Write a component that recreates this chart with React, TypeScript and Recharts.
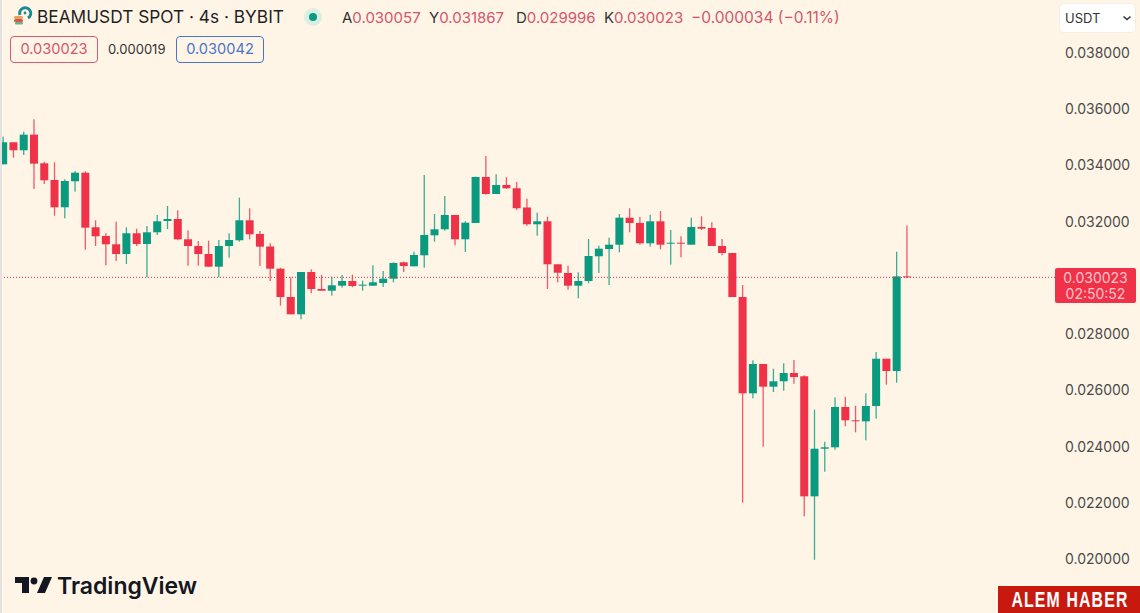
import { ComposedChart, Bar, XAxis, YAxis, ReferenceLine } from 'recharts';

const opens = [
  0.034043, 0.034825, 0.034541, 0.035096, 0.034079, 0.033485, 0.032514, 0.033439, 0.033744, 0.031803,
  0.031494, 0.031198, 0.030853, 0.03159, 0.031209, 0.031625, 0.032027, 0.032098, 0.031376, 0.031138,
  0.030853, 0.030402, 0.031138, 0.031341, 0.032052, 0.031565, 0.03112, 0.030331, 0.029324, 0.028709,
  0.030213, 0.029609, 0.029548, 0.029726, 0.029893, 0.029726, 0.029726, 0.029822, 0.029975, 0.030558,
  0.030416, 0.030807, 0.031518, 0.031732, 0.03224, 0.031376, 0.031956, 0.033592, 0.032987, 0.033307,
  0.03319, 0.032507, 0.03191, 0.032016, 0.030487, 0.030178, 0.029726, 0.029893, 0.030772, 0.031031,
  0.031184, 0.032144, 0.031956, 0.031234, 0.032016, 0.03122, 0.031255, 0.031184, 0.031814, 0.031778,
  0.031138, 0.030889, 0.029324, 0.0259, 0.026942, 0.026135, 0.026327, 0.026622, 0.026505, 0.022237,
  0.02393, 0.02398, 0.025413, 0.02494, 0.024904, 0.025448, 0.02713, 0.026693, 0.030057,
];
const highs = [
  0.035025, 0.034825, 0.035202, 0.035643, 0.034136, 0.034114, 0.03351, 0.033805, 0.033794, 0.032052,
  0.03159, 0.032002, 0.031803, 0.031753, 0.031849, 0.03224, 0.03256, 0.032407, 0.031696, 0.031316,
  0.031326, 0.031351, 0.03159, 0.032855, 0.032479, 0.031671, 0.031234, 0.030366, 0.030025, 0.030213,
  0.030309, 0.030107, 0.030046, 0.030107, 0.030117, 0.029904, 0.030452, 0.030249, 0.030558, 0.03058,
  0.030935, 0.033663, 0.032276, 0.032916, 0.03224, 0.032016, 0.033602, 0.034338, 0.033688, 0.033581,
  0.033414, 0.03282, 0.032322, 0.03218, 0.030487, 0.030437, 0.030203, 0.031387, 0.031149, 0.031433,
  0.032276, 0.032479, 0.032169, 0.032251, 0.032382, 0.031707, 0.031483, 0.032144, 0.032194, 0.031981,
  0.031387, 0.030889, 0.029751, 0.027073, 0.026942, 0.026775, 0.026967, 0.027084, 0.02654, 0.025317,
  0.024179, 0.025758, 0.025779, 0.025459, 0.0259, 0.027369, 0.02713, 0.030935, 0.031867,
];
const lows = [
  0.034043, 0.034278, 0.034374, 0.033165, 0.033343, 0.032215, 0.032123, 0.033069, 0.031006, 0.031138,
  0.030452, 0.030605, 0.030498, 0.031138, 0.030025, 0.031529, 0.031742, 0.031341, 0.030437, 0.030437,
  0.030402, 0.030025, 0.030722, 0.031291, 0.031376, 0.030427, 0.029893, 0.029015, 0.028709, 0.028531,
  0.029456, 0.029548, 0.029371, 0.029655, 0.029669, 0.029548, 0.029726, 0.02968, 0.029847, 0.030213,
  0.030416, 0.030366, 0.031291, 0.031682, 0.031163, 0.030925, 0.031956, 0.032962, 0.032987, 0.033165,
  0.032418, 0.03186, 0.031504, 0.029609, 0.029847, 0.029584, 0.029278, 0.029812, 0.030178, 0.029751,
  0.030914, 0.031625, 0.031184, 0.031113, 0.03102, 0.030473, 0.030736, 0.031184, 0.031707, 0.031138,
  0.030807, 0.029324, 0.02201, 0.025722, 0.024001, 0.025946, 0.025992, 0.026241, 0.021526, 0.019983,
  0.023112, 0.023894, 0.024726, 0.024513, 0.024229, 0.024997, 0.026206, 0.026277, 0.029996,
];
const closes = [
  0.034825, 0.034541, 0.035096, 0.034065, 0.033474, 0.032514, 0.033449, 0.033744, 0.031789, 0.031483,
  0.031198, 0.030853, 0.03159, 0.031209, 0.031625, 0.032016, 0.032098, 0.031376, 0.031138, 0.030853,
  0.030402, 0.031138, 0.031351, 0.032052, 0.031554, 0.031113, 0.030331, 0.029324, 0.028709, 0.030213,
  0.029609, 0.029548, 0.02974, 0.029893, 0.029716, 0.029762, 0.029847, 0.029975, 0.030533, 0.030427,
  0.030818, 0.031529, 0.031732, 0.03224, 0.031376, 0.031966, 0.033592, 0.032987, 0.033307, 0.03319,
  0.032479, 0.03191, 0.032016, 0.030487, 0.030188, 0.029726, 0.029893, 0.030782, 0.031042, 0.031184,
  0.032144, 0.031956, 0.031234, 0.032016, 0.031184, 0.031255, 0.03122, 0.031814, 0.031753, 0.031138,
  0.030889, 0.029324, 0.0259, 0.026942, 0.026135, 0.026327, 0.026622, 0.02648, 0.022237, 0.02393,
  0.02398, 0.025413, 0.02494, 0.024904, 0.025448, 0.02713, 0.026693, 0.030057, 0.030023,
];
// 0.030000 sits behind the price tag in the original, so it is not listed
const priceTicks = [0.02, 0.022, 0.024, 0.026, 0.028, 0.032, 0.034, 0.036, 0.038];
const lastPrice = 0.030023;

const UP = '#0a9a80';
const DOWN = '#ef3248';
const BG = '#fff5e7';
const FONT = 'Inter, "Noto Sans", sans-serif';

const candles = opens.map((open, i) => ({ i, open, high: highs[i], low: lows[i], close: closes[i] }));

function Candle(props: any) {
  const { x, y, width, height, payload } = props;
  const { open, high, low, close } = payload;
  const up = close >= open;
  const color = up ? UP : DOWN;
  // bar spans low..high, body is placed inside it by proportion
  const perUnit = height / (high - low);
  const top = y + (high - Math.max(open, close)) * perUnit;
  const bodyH = Math.max(Math.abs(open - close) * perUnit, 1);
  const cx = x + width / 2;
  return (
    <g>
      <rect x={cx - 0.65} y={y} width={1.3} height={height} fill={color} fillOpacity={0.8} />
      <rect x={x} y={top} width={width} height={bodyH} fill={color} />
    </g>
  );
}

function Label({ x, y, color, size = 14, weight = 400, children, style }: any) {
  return (
    <div
      style={{
        position: 'absolute',
        left: x,
        top: y,
        color,
        fontSize: size,
        fontWeight: weight,
        lineHeight: '18px',
        whiteSpace: 'nowrap',
        ...style,
      }}
    >
      {children}
    </div>
  );
}

function Legend() {
  const val = '#d3566b';
  const dark = '#333';
  return (
    <>
      <svg style={{ position: 'absolute', left: 13, top: 6 }} width={20} height={20}>
        <path d="M7 9 A5.5 5.5 0 1 1 15 12" fill="none" stroke="#1c8a94" strokeWidth={3} />
        <circle cx={12} cy={7} r={1.4} fill="#1c8a94" />
        <rect x={1} y={10} width={9} height={3} rx={1.5} fill="#e8a05c" />
        <rect x={1} y={13} width={9} height={3} rx={1.5} fill="#d9534f" />
        <rect x={2} y={16} width={8} height={2.5} rx={1.2} fill="#6fb08a" />
      </svg>
      <Label x={37} y={8} color="#1f1f1f" size={17.3}>BEAMUSDT SPOT · 4s · BYBIT</Label>
      <div style={{ position: 'absolute', left: 304, top: 8, width: 18, height: 18, borderRadius: 9, background: '#d9efe4' }} />
      <div style={{ position: 'absolute', left: 309, top: 13, width: 8, height: 8, borderRadius: 4, background: UP }} />
      <Label x={342} y={9} color={dark} size={15}>A<span style={{ color: val }}>0.030057</span></Label>
      <Label x={429} y={9} color={dark} size={15}>Y<span style={{ color: val }}>0.031867</span></Label>
      <Label x={516} y={9} color={dark} size={15}>D<span style={{ color: val }}>0.029996</span></Label>
      <Label x={604} y={9} color={dark} size={15}>K<span style={{ color: val }}>0.030023</span></Label>
      <Label x={691} y={9} color={val} size={15.5}>−0.000034 (−0.11%)</Label>
      <div style={{ position: 'absolute', left: 10, top: 36, width: 86, height: 25, border: '1.3px solid #d9596d', borderRadius: 4, color: val, fontSize: 14.6, lineHeight: '25px', textAlign: 'center' }}>0.030023</div>
      <Label x={108} y={40} color="#333" size={13}>0.000019</Label>
      <div style={{ position: 'absolute', left: 176, top: 36, width: 86, height: 25, border: '1.3px solid #4a76c8', borderRadius: 4, color: '#4a76c8', fontSize: 14.6, lineHeight: '25px', textAlign: 'center' }}>0.030042</div>
    </>
  );
}

export default function App() {
  return (
    <div style={{ position: 'absolute', left: 0, top: 0, width: 1140, height: 613, background: BG, overflow: 'hidden', fontFamily: FONT }}>
      <ComposedChart
        width={1140}
        height={613}
        data={candles}
        margin={{ top: 0, right: 0, bottom: 0, left: -1.83 }}
      >
        <XAxis dataKey="i" hide padding={{ left: 0, right: 142.8 }} />
        <YAxis
          orientation="right"
          width={85}
          domain={[0.018089, 0.039884]}
          ticks={priceTicks}
          tickFormatter={(v: number) => v.toFixed(6)}
          axisLine={false}
          tickLine={false}
          tickMargin={4}
          tick={{ fontSize: 14, fill: '#4a4a4a', fontFamily: FONT }}
          interval={0}
          allowDataOverflow
        />
        <ReferenceLine y={lastPrice} stroke="#d8325a" strokeWidth={1} strokeDasharray="1 2" />
        <Bar dataKey={(d: any) => [d.low, d.high]} barSize={8} shape={<Candle />} isAnimationActive={false} />
      </ComposedChart>

      <div style={{ position: 'absolute', left: 0, top: 0, width: 1.5, height: 613, background: '#e6e1e1' }} />
      <Legend />

      <div style={{ position: 'absolute', left: 1060, top: 4, width: 75, height: 28, background: '#fff', borderRadius: 4, boxShadow: '0 0 2px #ddd' }} />
      <Label x={1065} y={9} color="#333" size={13}>USDT</Label>
      <svg style={{ position: 'absolute', left: 1122, top: 15 }} width={10} height={7}>
        <path d="M1.5 1.5 L5 4.5 L8.5 1.5" fill="none" stroke="#333" strokeWidth={1.5} />
      </svg>

      <div style={{ position: 'absolute', left: 1055, top: 268, width: 81, height: 35, background: DOWN, borderRadius: 2, color: '#ffc4ca', fontSize: 14, lineHeight: '16px', paddingTop: 2, boxSizing: 'border-box', textAlign: 'center' }}>
        0.030023<br />02:50:52
      </div>

      <svg style={{ position: 'absolute', left: 14, top: 575 }} width={40} height={22}>
        <path d="M1 2 H15 V18 H8 V8 H1 Z M23 18 L30 2 H38 L31 18 Z" fill="#131722" />
        <circle cx={20} cy={6} r={3.4} fill="#131722" />
      </svg>
      <Label x={57} y={574} color="#131722" size={23} weight={600} style={{ lineHeight: '24px' }}>TradingView</Label>

      <div style={{ position: 'absolute', left: 998, top: 586, width: 142, height: 27, background: '#c8190f' }} />
      <div style={{ position: 'absolute', left: 989, top: 586, width: 160, height: 27, color: '#fff', fontFamily: '"Liberation Sans", sans-serif', fontWeight: 700, fontSize: 22, letterSpacing: 1.6, lineHeight: '27px', textAlign: 'center', whiteSpace: 'nowrap', transform: 'scaleX(0.72)' }}>
        ALEM HABER
      </div>
    </div>
  );
}
